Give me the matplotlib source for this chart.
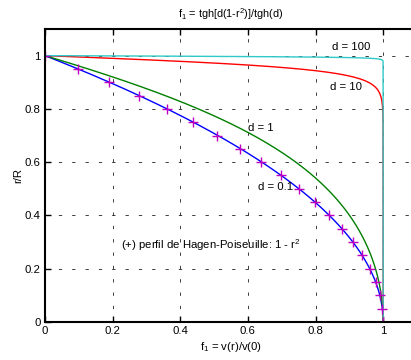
import numpy as np
import matplotlib
matplotlib.use("Agg")
import matplotlib.pyplot as plt

plt.rcParams['font.family'] = ['Liberation Sans', 'DejaVu Sans']
plt.rcParams['font.size'] = 8.2
plt.rcParams['mathtext.fontset'] = 'custom'
plt.rcParams['mathtext.rm'] = 'Liberation Sans'
plt.rcParams['mathtext.it'] = 'Liberation Sans'

# Parametros d de cada curva y su color
d_valores = [0.1, 1, 10, 100]
colores = ['#0000ff', '#008000', '#ff0000', '#30c8c8']
etiquetas = ['d = 0.1', 'd = 1', 'd = 10', 'd = 100']
pos_etiquetas = [(0.63, 0.508), (0.60, 0.73), (0.843, 0.883), (0.849, 1.034)]

# Radio adimensional r/R
r = np.linspace(0, 1, 2001)
# Puntos del perfil de Hagen-Poiseuille (cada 0.05)
r_hp = np.linspace(0, 1, 21)


def f1(d, r):
    # perfil de velocidad v(r)/v(0)
    return np.tanh(d * (1 - r**2)) / np.tanh(d)


fig = plt.figure(figsize=(4.11, 3.6), dpi=100)
ax = fig.add_axes([45/411, 38/360, 372/411, 293/360])

for d, c in zip(d_valores, colores):
    ax.plot(f1(d, r), r, color=c, lw=1.0)

# perfil parabolico 1 - r^2
ax.plot(1 - r_hp**2, r_hp, '+', color='#c000c0', ms=7, mew=1.0)

for txt, (x, y) in zip(etiquetas, pos_etiquetas):
    ax.text(x, y, txt, va='center', ha='left')
ax.text(0.225, 0.29, '(+) perfil de Hagen-Poiseuille: 1 - r$^2$',
        va='center', ha='left')

ax.set_xlim(0, 1.1)
ax.set_ylim(0, 1.1)
ax.set_xticks([0, 0.2, 0.4, 0.6, 0.8, 1])
ax.set_yticks([0, 0.2, 0.4, 0.6, 0.8, 1])
ax.set_xticklabels(['0', '0.2', '0.4', '0.6', '0.8', '1'])
ax.set_yticklabels(['0', '0.2', '0.4', '0.6', '0.8', '1'])
ax.tick_params(direction='in', top=True, right=False, length=4,
               width=1, pad=3)
ax.grid(True, color='#202020', linestyle=(0, (4, 12)), lw=0.6)
for s in ['left', 'bottom', 'top']:
    ax.spines[s].set_linewidth(1.5)
ax.spines['right'].set_visible(False)

ax.set_title('f$_1$ = tgh[d(1-r$^2$)]/tgh(d)', pad=8, fontsize=7.8)
ax.set_xlabel('f$_1$ = v(r)/v(0)', labelpad=3)
ax.set_ylabel('r/R', labelpad=1)

fig.savefig('out.png', dpi=100)
